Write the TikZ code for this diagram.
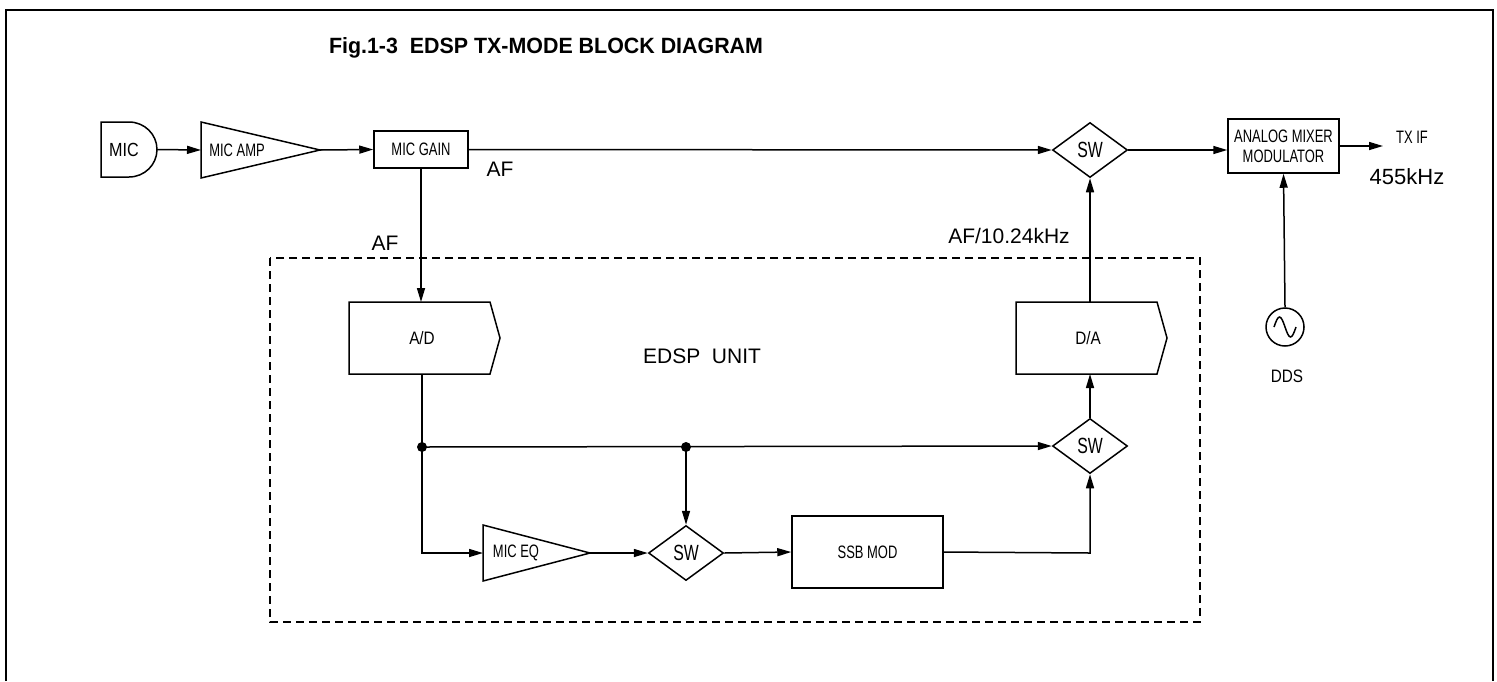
\documentclass[tikz,border=0pt]{standalone}
\usepackage{fontspec}
\setmainfont{Liberation Sans}
\usepackage{graphicx}
\usetikzlibrary{arrows.meta,shapes.geometric}
\newcommand\nar[1]{\scalebox{0.72}[1]{#1}}
\begin{document}
\begin{tikzpicture}[x=0.5pt,y=-0.5pt,
  ln/.style={line width=0.75pt},
  arr/.style={ln,-{Triangle[length=7pt,width=4pt]}},
  lbl/.style={font=\fontsize{9}{10}\selectfont},
  big/.style={font=\fontsize{10.5}{12}\selectfont},
  box/.style={draw,ln,inner sep=0pt,lbl},
  sw/.style={diamond,draw,ln,minimum width=37.5pt,minimum height=27.5pt,inner sep=0pt,font=\fontsize{11}{12}\selectfont},
  dot/.style={circle,fill,inner sep=0pt,minimum size=5pt}]
\useasboundingbox (0,0) rectangle (1497,681);
% frame
\draw[line width=1.2pt] (6,681) -- (6,10) -- (1493,10) -- (1493,681);
\node[font=\bfseries] (title) at (546,48) {\resizebox{217pt}{8pt}{Fig.1-3\ \ EDSP TX-MODE BLOCK DIAGRAM}};
% EDSP unit boundary
\draw[line width=1pt,dash pattern=on 4pt off 2.5pt] (270,258) rectangle (1200,622);
\node[big] (unit) at (702,356) {EDSP\ \ UNIT};
% MIC
\draw[ln] (101,122) -- (129,122) arc[start angle=-90,end angle=90,x radius=28,y radius=27.5] -- (101,177) -- cycle;
\coordinate (micout) at (157,149.5);
\node[font=\fontsize{9.5}{10}\selectfont] (mic) at (124,150) {\scalebox{0.85}[1]{MIC}};
% MIC AMP
\draw[ln] (201,122) -- (320,150) -- (201,178) -- cycle;
\coordinate (ampin) at (201,150);
\coordinate (ampout) at (320,150);
\node[lbl] (amp) at (237,150) {\nar{MIC AMP}};
% MIC GAIN
\node[box,minimum width=47pt,minimum height=18.5pt] (gain) at (421,149.5) {\nar{MIC GAIN}};
% SW1
\node[sw] (sw1) at (1090,150) {\nar{SW}};
% mixer
\node[box,minimum width=55.5pt,minimum height=27pt,align=center,font=\fontsize{9}{10}\selectfont] (mix) at (1283.5,146) {\nar{ANALOG MIXER}\\\nar{MODULATOR}};
\coordinate (txif) at (1383,146);
\node[lbl] (txl) at (1412,137) {\nar{TX\ IF}};
\node[font=\fontsize{11}{13}\selectfont] (khz) at (1407,177) {455kHz};
% DDS
\node[circle,draw,ln,minimum size=19pt,inner sep=0pt] (dds) at (1285,327) {};
\draw[ln] (1274,327) sin (1279.5,317) cos (1285,327) sin (1290.5,337) cos (1296,327);
\node[lbl] (ddsl) at (1287,376) {\scalebox{0.85}[1]{DDS}};
% A/D
\draw[ln] (349,302) -- (490,302) -- (500,338) -- (490,374) -- (349,374) -- cycle;
\coordinate (adin) at (421,302);
\coordinate (adout) at (422,374);
\node[lbl] (ad) at (422,338) {\scalebox{0.85}[1]{A/D}};
% D/A
\draw[ln] (1016,302) -- (1157,302) -- (1167,338) -- (1157,374) -- (1016,374) -- cycle;
\coordinate (dain) at (1090,374);
\coordinate (daout) at (1090,302);
\node[lbl] (da) at (1088,338) {\scalebox{0.85}[1]{D/A}};
% SW2, SW3
\node[sw] (sw2) at (1090,446) {\nar{SW}};
\node[sw] (sw3) at (686,553) {\nar{SW}};
% MIC EQ
\draw[ln] (483,525) -- (590,553) -- (483,581) -- cycle;
\coordinate (eqin) at (483,553);
\coordinate (eqout) at (590,553);
\node[lbl] (eq) at (516,553) {\nar{MIC EQ}};
% SSB MOD
\node[box,minimum width=75.5pt,minimum height=36pt] (ssb) at (867.5,552) {\nar{SSB MOD}};
% junctions
\node[dot] (j1) at (422,447) {};
\node[dot] (j2) at (686,447) {};
\coordinate (c1) at (422,553);
\coordinate (c2) at (1090,553);
% connectors
\draw[arr] (micout) -- (ampin);
\draw[arr] (ampout) -- (gain.west);
\draw[arr] (gain.east) -- (sw1.west);
\draw[arr] (sw1.east) -- (sw1.east -| mix.west);
\draw[arr] (mix.east) -- (txif);
\draw[arr] (dds.north) -- (mix.south);
\draw[arr] (gain.south) -- (adin);
\draw[ln] (adout) -- (j1.center);
\draw[arr] (j1.center) -- (sw2.west);
\draw[arr] (j1.center) -- (c1) -- (eqin);
\draw[arr] (j2.center) -- (sw3.north);
\draw[arr] (eqout) -- (sw3.west);
\draw[arr] (sw3.east) -- (ssb.west);
\draw[arr] (ssb.east) -- (c2) -- (sw2.south);
\draw[arr] (sw2.north) -- (dain);
\draw[arr] (daout) -- (sw1.south);
% labels
\node[big] (af1) at (500,169) {AF};
\node[big] (af2) at (385,243) {AF};
\node[big] (af3) at (1009,236) {AF/10.24kHz};
\end{tikzpicture}
\end{document}
